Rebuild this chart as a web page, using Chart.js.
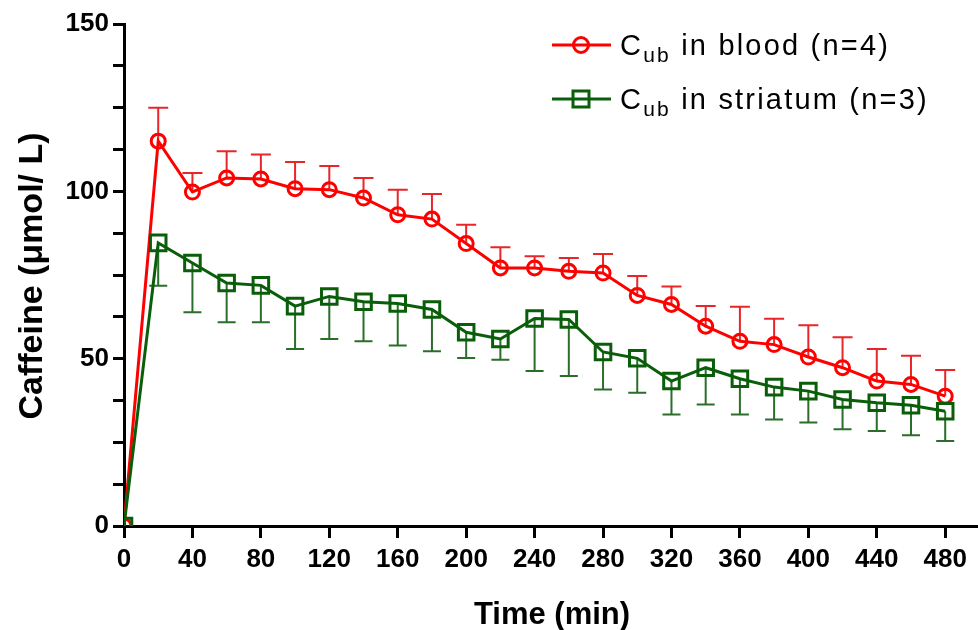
<!DOCTYPE html>
<html>
<head>
<meta charset="utf-8">
<script src="https://cdn.jsdelivr.net/npm/chart.js@4/dist/chart.umd.min.js"></script>
<style>
  html, body { margin: 0; padding: 0; background: #fff; }
  #wrap { width: 978px; height: 630px; position: relative; }
</style>
</head>
<body>
<div id="wrap"><canvas id="c" width="978" height="630"></canvas></div>
<script>
// ---- data ----
const timeMin = [0, 20, 40, 60, 80, 100, 120, 140, 160, 180, 200, 220, 240, 260, 280, 300, 320, 340, 360, 380, 400, 420, 440, 460, 480];
const bloodMean = [0, 115, 99.8, 104, 103.7, 100.8, 100.5, 98, 93, 91.7, 84.4, 77.1, 77.1, 76.1, 75.6, 68.9, 66.2, 59.7, 55.2, 54.2, 50.5, 47.3, 43.3, 42.3, 38.8];
const bloodSD = [0, 10, 5.7, 8, 7.3, 8, 7.1, 6, 7.5, 7.5, 5.6, 6.2, 3.5, 4, 5.7, 5.8, 5.4, 6, 10.3, 7.7, 9.5, 9.1, 9.6, 8.6, 7.8];
const striatumMean = [0, 84.6, 78.6, 72.6, 71.9, 65.7, 68.6, 67, 66.5, 64.7, 57.9, 55.9, 62, 61.7, 52, 50.1, 43.3, 47.3, 44, 41.5, 40.3, 37.8, 36.8, 36.1, 34.3];
const striatumSD = [0, 12.8, 14.7, 11.7, 11, 12.8, 12.7, 11.8, 12.6, 12.5, 7.7, 6.2, 15.7, 16.9, 11.2, 10.3, 10, 11, 10.7, 9.7, 9.4, 8.9, 8.4, 9, 8.9];
const xTickValues = [0, 40, 80, 120, 160, 200, 240, 280, 320, 360, 400, 440, 480];
const yLabelValues = [0, 50, 100, 150];
const seriesNames = ["in blood (n=4)", "in striatum (n=3)"];
const xTitle = "Time (min)";
const yTitle = "Caffeine (\u03bcmol/ L)";

const RED = '#ff0000', RED_ERR = '#e8262a';
const GREEN = '#0a5e0a', GREEN_ERR = '#2a6e2a';

const pts = (xs, ys) => xs.map((x, i) => ({ x: x, y: ys[i] }));

const errorBars = {
  id: 'errorBars',
  beforeDatasetsDraw(chart) {
    const ctx = chart.ctx, xs = chart.scales.x, ys = chart.scales.y;
    const specs = [
      { mean: bloodMean, sd: bloodSD, dir: 1, color: RED_ERR, cap: 10 },
      { mean: striatumMean, sd: striatumSD, dir: -1, color: GREEN_ERR, cap: 9 }
    ];
    ctx.save();
    specs.forEach(s => {
      ctx.strokeStyle = s.color;
      ctx.lineWidth = 2;
      timeMin.forEach((t, i) => {
        if (!s.sd[i]) return;
        const px = xs.getPixelForValue(t);
        const p0 = ys.getPixelForValue(s.mean[i]);
        const p1 = ys.getPixelForValue(s.mean[i] + s.dir * s.sd[i]);
        ctx.beginPath();
        ctx.moveTo(px, p0); ctx.lineTo(px, p1);
        ctx.moveTo(px - s.cap, p1); ctx.lineTo(px + s.cap, p1);
        ctx.stroke();
      });
    });
    ctx.restore();
  }
};

const customText = {
  id: 'customText',
  afterDraw(chart) {
    const ctx = chart.ctx;
    ctx.save();
    ctx.fillStyle = '#000';
    ctx.font = 'bold 31px "Liberation Sans", Arial, sans-serif';
    ctx.textAlign = 'center';
    ctx.textBaseline = 'alphabetic';
    ctx.fillText(xTitle, 552, 624);
    ctx.save();
    ctx.translate(42, 276);
    ctx.rotate(-Math.PI / 2);
    ctx.font = 'bold 34px "Liberation Sans", Arial, sans-serif';
    ctx.fillText(yTitle, 0, 0);
    ctx.restore();
    const rows = [
      { y: 45, color: RED, style: 'circle', name: seriesNames[0] },
      { y: 99, color: GREEN, style: 'rect', name: seriesNames[1] }
    ];
    rows.forEach(r => {
      ctx.strokeStyle = r.color;
      ctx.lineWidth = 3;
      ctx.beginPath();
      ctx.moveTo(552, r.y); ctx.lineTo(611, r.y);
      ctx.stroke();
      ctx.beginPath();
      if (r.style === 'circle') {
        ctx.arc(581, r.y, 7.5, 0, Math.PI * 2);
      } else {
        ctx.rect(573, r.y - 8, 16, 16);
      }
      ctx.stroke();
      ctx.textAlign = 'left';
      ctx.textBaseline = 'alphabetic';
      ctx.letterSpacing = '2.2px';
      ctx.font = '29px "Liberation Sans", Arial, sans-serif';
      let x = 620;
      const base = r.y + 10;
      ctx.fillText('C', x, base);
      x += ctx.measureText('C').width;
      ctx.font = '21px "Liberation Sans", Arial, sans-serif';
      ctx.fillText('ub', x, base + 7);
      x += ctx.measureText('ub').width;
      ctx.font = '29px "Liberation Sans", Arial, sans-serif';
      ctx.fillText(' ' + r.name, x, base);
    });
    ctx.restore();
  }
};

new Chart(document.getElementById('c'), {
  type: 'line',
  data: {
    datasets: [
      {
        label: 'Cub ' + seriesNames[0],
        data: pts(timeMin, bloodMean),
        borderColor: RED, backgroundColor: 'rgba(0,0,0,0)',
        borderWidth: 3, tension: 0,
        pointStyle: 'circle', pointRadius: 7, pointBorderWidth: 3,
        pointBorderColor: RED, pointBackgroundColor: 'rgba(0,0,0,0)',
        order: 1
      },
      {
        label: 'Cub ' + seriesNames[1],
        data: pts(timeMin, striatumMean),
        borderColor: GREEN, backgroundColor: 'rgba(0,0,0,0)',
        borderWidth: 3, tension: 0,
        pointStyle: 'rect', pointRadius: 11, pointBorderWidth: 3,
        pointBorderColor: GREEN, pointBackgroundColor: 'rgba(0,0,0,0)',
        order: 0
      }
    ]
  },
  options: {
    responsive: false,
    animation: false,
    events: [],
    layout: { autoPadding: false, padding: { top: 24, right: 2, left: 0, bottom: 0 } },
    plugins: { legend: { display: false }, tooltip: { enabled: false } },
    scales: {
      x: {
        type: 'linear', min: 0, max: 498,
        border: { display: true, width: 3, color: '#000' },
        grid: { drawOnChartArea: false, drawTicks: true, tickLength: 12, lineWidth: 3, color: '#000' },
        ticks: {
          color: '#000', padding: 6, maxRotation: 0, autoSkip: false,
          font: { family: '"Liberation Sans", Arial, sans-serif', size: 26, weight: 'bold' }
        },
        afterBuildTicks(s) { s.ticks = xTickValues.map(v => ({ value: v })); },
        afterFit(s) { s.height = 104; s.paddingRight = 0; s.paddingLeft = 0; }
      },
      y: {
        type: 'linear', min: 0, max: 150,
        border: { display: true, width: 3, color: '#000' },
        grid: { drawOnChartArea: false, drawTicks: true, tickLength: 11, lineWidth: 3, color: '#000' },
        ticks: {
          stepSize: 12.5, color: '#000', padding: 4,
          callback: v => yLabelValues.includes(v) ? String(v) : '',
          font: { family: '"Liberation Sans", Arial, sans-serif', size: 26, weight: 'bold' }
        },
        afterFit(s) { s.width = 124; s.paddingTop = 0; s.paddingBottom = 0; }
      }
    }
  },
  plugins: [errorBars, customText]
});
</script>
</body>
</html>
